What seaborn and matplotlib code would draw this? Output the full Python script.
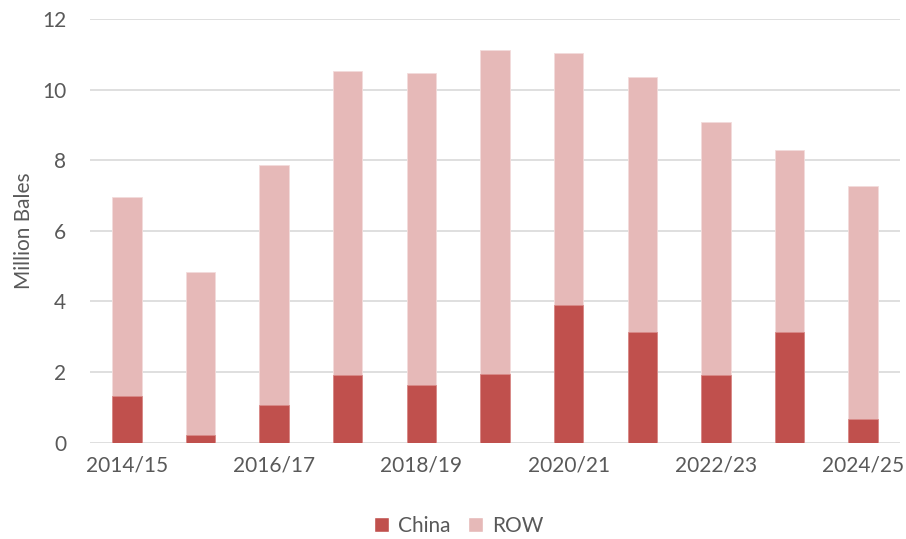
import matplotlib
matplotlib.use("Agg")
import matplotlib.pyplot as plt
import seaborn as sns
import pandas as pd
import numpy as np
from matplotlib.patches import Patch

seasons = ["2014/15", "2015/16", "2016/17", "2017/18", "2018/19", "2019/20",
           "2020/21", "2021/22", "2022/23", "2023/24", "2024/25"]
china = [1.32, 0.22, 1.07, 1.91, 1.63, 1.94, 3.91, 3.14, 1.92, 3.14, 0.68]
row = [5.65, 4.62, 6.79, 8.62, 8.84, 9.19, 7.13, 7.21, 7.15, 5.15, 6.58]
yticks = [0, 2, 4, 6, 8, 10, 12]

c_china = "#C0504D"
c_row = "#E6B9B8"
txt = "#595959"

sns.set_theme(style="white")
plt.rcParams["font.family"] = ["Lato", "DejaVu Sans"]

df = pd.DataFrame({"season": seasons, "China": china, "ROW": row})
df["total"] = df["China"] + df["ROW"]

fig = plt.figure(figsize=(9.06, 5.39), dpi=100)
ax = fig.add_axes([0.0993, 0.1787, 0.8941, 0.786])

sns.barplot(data=df, x="season", y="total", color=c_row, width=0.4,
            saturation=1, ax=ax, zorder=3, edgecolor="#F3DCDB", linewidth=0.6)
sns.barplot(data=df, x="season", y="China", color=c_china, width=0.4,
            saturation=1, ax=ax, zorder=4, edgecolor="#D88A88", linewidth=0.6)

ax.set_xlim(-0.5, len(seasons) - 0.5)
ax.set_ylim(0, 12)
ax.set_yticks(yticks)
ax.set_yticklabels([str(v) for v in yticks])
ax.yaxis.grid(True, color="#D9D9D9", linewidth=1.2, zorder=0)
ax.set_axisbelow(True)
for s in ax.spines.values():
    s.set_visible(False)

xt = list(range(0, len(seasons), 2))
ax.set_xticks(xt)
ax.set_xticklabels([seasons[i] for i in xt])
ax.tick_params(axis="both", length=0, labelsize=15, labelcolor=txt)
ax.tick_params(axis="x", pad=9)
ax.tick_params(axis="y", pad=17)
ax.set_xlabel("")
ax.set_ylabel("Million Bales", fontsize=15, color=txt, labelpad=6)

handles = [Patch(facecolor=c_china, label="China"), Patch(facecolor=c_row, label="ROW")]
fig.legend(handles=handles, loc="center", bbox_to_anchor=(0.506, 0.025), ncol=2,
           frameon=False, fontsize=15, labelcolor=txt, handlelength=0.75,
           handleheight=0.75, handletextpad=0.4, columnspacing=0.85)

fig.savefig("out.png", dpi=100)
